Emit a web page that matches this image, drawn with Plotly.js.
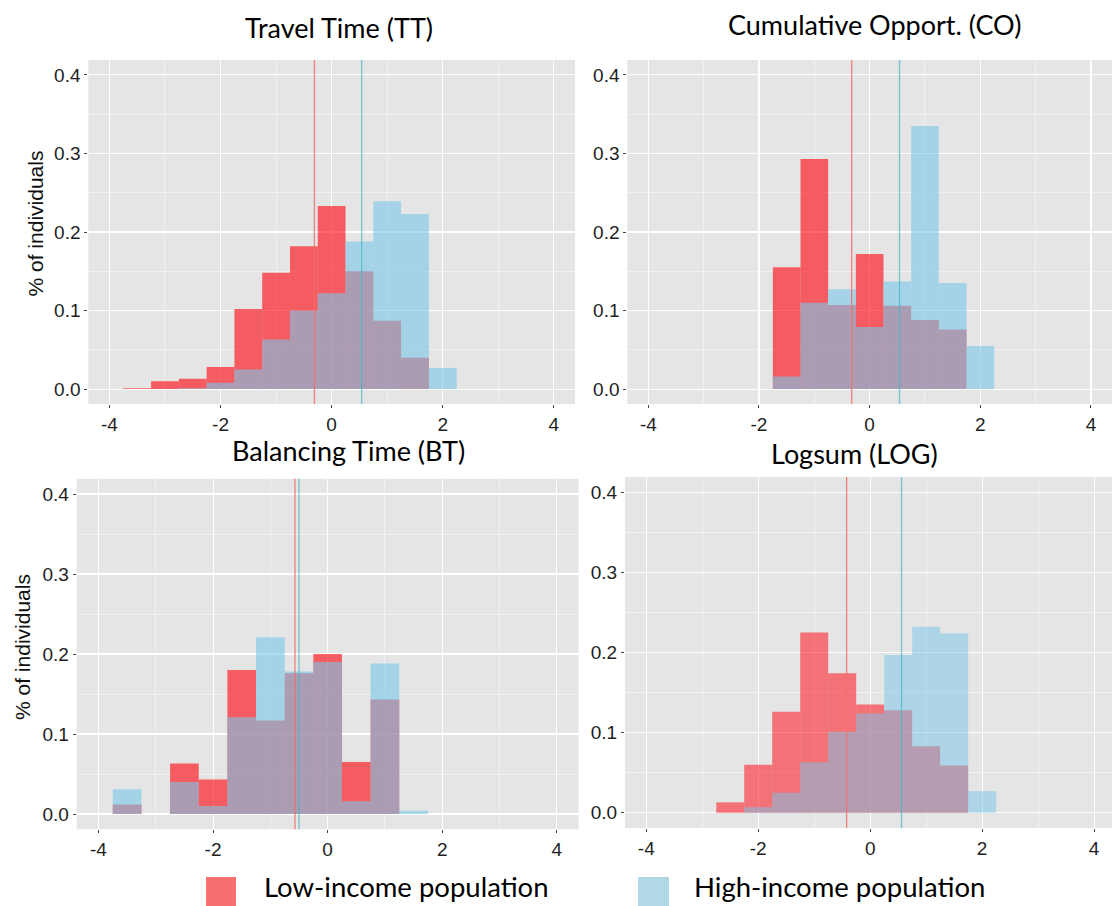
<!DOCTYPE html>
<html><head><meta charset="utf-8">
<script src="https://cdn.plot.ly/plotly-3.0.1.min.js"></script>
<style>html,body{margin:0;padding:0;background:#fff;} #chart{width:1112px;height:906px;}</style>
</head><body><div id="chart"></div>
<script>
// ---------- data ----------
const panelTitles = ['Travel Time (TT)', 'Cumulative Opport. (CO)', 'Balancing Time (BT)', 'Logsum (LOG)'];
const seriesNames = ['Low-income population', 'High-income population'];
const yAxisLabel = '% of individuals';
const xTickValues = [-4, -2, 0, 2, 4];
const xTickLabels = ['-4', '-2', '0', '2', '4'];
const xMinorTicks = [-3, -1, 1, 3];
const yTickValues = [0, 0.1, 0.2, 0.3, 0.4];
const yTickLabels = ['0.0', '0.1', '0.2', '0.3', '0.4'];
const yMinorTicks = [0.05, 0.15, 0.25, 0.35];
const binWidth = 0.5;

const ttBins  = [-3.5, -3, -2.5, -2, -1.5, -1, -0.5, 0, 0.5, 1, 1.5, 2];
const ttLow   = [0.001, 0.010, 0.013, 0.028, 0.102, 0.148, 0.182, 0.233, 0.150, 0.087, 0.040, 0];
const ttHigh  = [0, 0, 0.001, 0.008, 0.025, 0.063, 0.100, 0.122, 0.188, 0.239, 0.223, 0.027];

const coBins  = [-1.5, -1, -0.5, 0, 0.5, 1, 1.5, 2];
const coLow   = [0.155, 0.293, 0.107, 0.172, 0.106, 0.088, 0.076, 0];
const coHigh  = [0.016, 0.110, 0.127, 0.079, 0.137, 0.335, 0.135, 0.055];

const btBins  = [-3.5, -3, -2.5, -2, -1.5, -1, -0.5, 0, 0.5, 1, 1.5];
const btLow   = [0.012, 0, 0.063, 0.043, 0.180, 0.117, 0.176, 0.200, 0.065, 0.143, 0];
const btHigh  = [0.031, 0, 0.040, 0.010, 0.121, 0.221, 0.178, 0.190, 0.016, 0.188, 0.004];

const logBins = [-2.5, -2, -1.5, -1, -0.5, 0, 0.5, 1, 1.5, 2];
const logLow  = [0.013, 0.060, 0.126, 0.225, 0.174, 0.135, 0.128, 0.083, 0.059, 0];
const logHigh = [0, 0.007, 0.025, 0.063, 0.101, 0.124, 0.197, 0.232, 0.224, 0.027];

const meanLow  = [-0.31, -0.325, -0.57, -0.42];
const meanHigh = [0.54, 0.54, -0.50, 0.56];

// ---------- layout helpers ----------
const W = 1112, H = 906;
const px = v => v / W;
const py = v => 1 - v / H;

// panel boxes in pixels [left, right, top, bottom]
const boxes = [
  [88.3, 575, 60, 404],
  [627.3, 1112, 60, 404],
  [76.7, 578.6, 478.8, 829.2],
  [625, 1112, 477, 828]
];
const xRanges = [[-4.38, 4.38], [-4.38, 4.38], [-4.38, 4.38], [-4.38, 4.32]];
const yRange = [-0.019, 0.419];
const alphas = [0.6, 0.6, 0.6, 0.5];

const bins = [ttBins, coBins, btBins, logBins];
const lows = [ttLow, coLow, btLow, logLow];
const highs = [ttHigh, coHigh, btHigh, logHigh];

const traces = [];
const layout = {
  width: W, height: H,
  margin: {l: 0, r: 0, t: 0, b: 0},
  paper_bgcolor: '#ffffff',
  plot_bgcolor: '#E5E5E5',
  barmode: 'overlay',
  showlegend: false,
  hovermode: false,
  shapes: [],
  annotations: []
};

const tickFont = {family: 'Liberation Sans, Arial, sans-serif', size: 19, color: '#1e1e1e'};

for (let i = 0; i < 4; i++) {
  const s = i === 0 ? '' : String(i + 1);
  const xa = 'x' + s, ya = 'y' + s;
  const b = boxes[i];
  traces.push({
    type: 'bar', x: bins[i], y: lows[i], width: binWidth, name: seriesNames[0],
    xaxis: xa, yaxis: ya,
    marker: {color: `rgba(255,0,10,${alphas[i]})`, line: {width: 0}}
  });
  traces.push({
    type: 'bar', x: bins[i], y: highs[i], width: binWidth, name: seriesNames[1],
    xaxis: xa, yaxis: ya,
    marker: {color: `rgba(120,198,233,${alphas[i]})`, line: {width: 0}}
  });
  layout['xaxis' + s] = {
    domain: [px(b[0]), px(b[1])], anchor: ya, range: xRanges[i],
    tickmode: 'array', tickvals: xTickValues, ticktext: xTickLabels,
    showgrid: true, gridcolor: '#ffffff', gridwidth: 1.1, zeroline: false,
    ticks: 'outside', ticklen: 3, tickcolor: '#444', tickwidth: 1,
    tickfont: tickFont, showline: false, fixedrange: true,
    minor: {tickmode: 'array', tickvals: xMinorTicks, showgrid: true, gridcolor: 'rgba(255,255,255,0.8)', gridwidth: 0.6, ticks: ''}
  };
  layout['yaxis' + s] = {
    domain: [py(b[3]), py(b[2])], anchor: xa, range: yRange,
    tickmode: 'array', tickvals: yTickValues, ticktext: yTickLabels,
    showgrid: true, gridcolor: '#ffffff', gridwidth: 1.1, zeroline: false,
    ticks: 'outside', ticklen: 3, tickcolor: '#444', tickwidth: 1,
    tickfont: tickFont, showline: false, fixedrange: true,
    minor: {tickmode: 'array', tickvals: yMinorTicks, showgrid: true, gridcolor: 'rgba(255,255,255,0.8)', gridwidth: 0.6, ticks: ''}
  };
  layout.shapes.push({
    type: 'line', xref: xa, yref: ya + ' domain', x0: meanLow[i], x1: meanLow[i], y0: 0, y1: 1,
    line: {color: 'rgba(240,110,110,0.85)', width: 1.3}
  });
  layout.shapes.push({
    type: 'line', xref: xa, yref: ya + ' domain', x0: meanHigh[i], x1: meanHigh[i], y0: 0, y1: 1,
    line: {color: 'rgba(60,185,195,0.7)', width: 1.3}
  });
}

// panel titles
const titlePos = [[339, 27], [874, 24], [348, 450], [854, 453]];
for (let i = 0; i < 4; i++) {
  layout.annotations.push({
    text: panelTitles[i], xref: 'paper', yref: 'paper',
    x: px(titlePos[i][0]), y: py(titlePos[i][1]), xanchor: 'center', yanchor: 'middle',
    showarrow: false, font: {family: 'Lato, sans-serif', size: 27, color: '#000000'}
  });
}
// y-axis titles
[[34.5, 224], [22, 647]].forEach(p => {
  layout.annotations.push({
    text: yAxisLabel, xref: 'paper', yref: 'paper', x: px(p[0]), y: py(p[1]),
    xanchor: 'center', yanchor: 'middle', textangle: -90, showarrow: false,
    font: {family: 'Liberation Sans, Arial, sans-serif', size: 21, color: '#111111'}
  });
});
// legend
layout.shapes.push({type: 'rect', xref: 'paper', yref: 'paper', x0: px(206), x1: px(236), y0: py(907), y1: py(877),
  fillcolor: '#F86F6F', line: {width: 0}});
layout.shapes.push({type: 'rect', xref: 'paper', yref: 'paper', x0: px(638), x1: px(669), y0: py(907), y1: py(877),
  fillcolor: '#B2D8E6', line: {width: 0}});
layout.annotations.push({text: seriesNames[0], xref: 'paper', yref: 'paper', x: px(262), y: py(886),
  xanchor: 'left', yanchor: 'middle', showarrow: false, font: {family: 'Lato, sans-serif', size: 27.5, color: '#000'}});
layout.annotations.push({text: seriesNames[1], xref: 'paper', yref: 'paper', x: px(692), y: py(886),
  xanchor: 'left', yanchor: 'middle', showarrow: false, font: {family: 'Lato, sans-serif', size: 27.5, color: '#000'}});

Plotly.newPlot('chart', traces, layout, {staticPlot: true, displayModeBar: false});
</script>
</body></html>
